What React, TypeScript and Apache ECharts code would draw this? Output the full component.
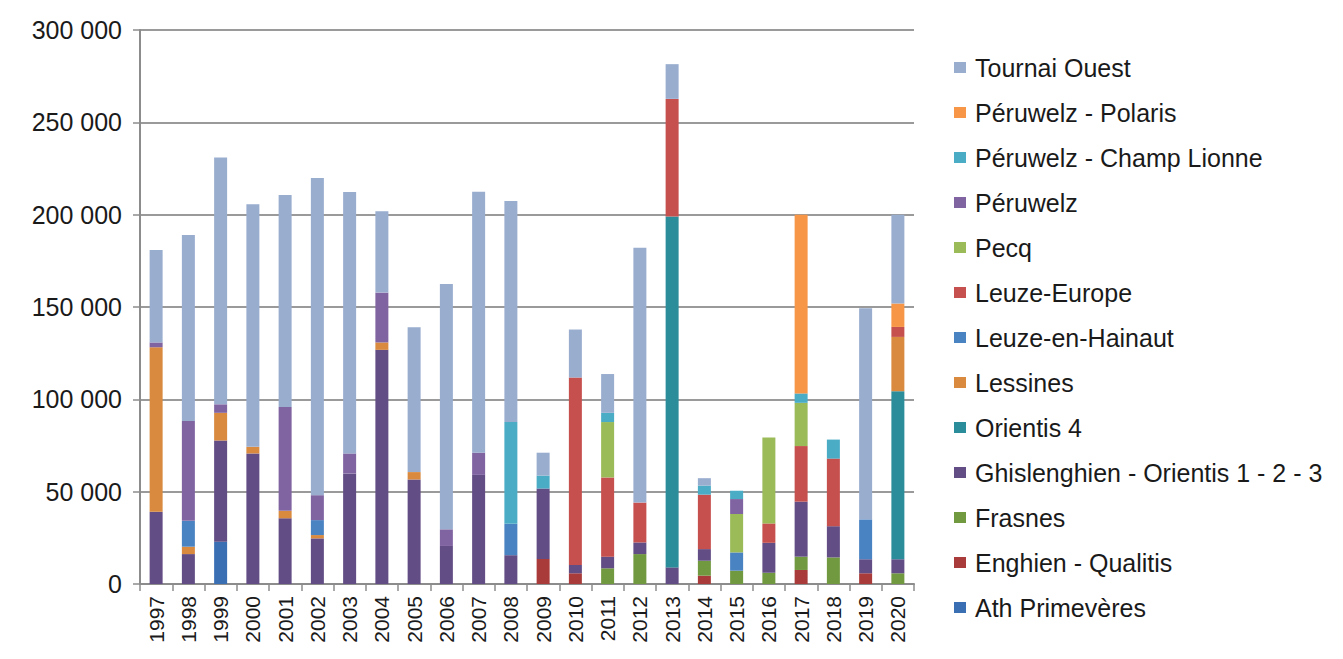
import React, { useEffect, useRef } from "react";
import * as echarts from "echarts";

const years = ["1997","1998","1999","2000","2001","2002","2003","2004","2005","2006","2007","2008","2009","2010","2011","2012","2013","2014","2015","2016","2017","2018","2019","2020"];

const yTicks = { min: 0, max: 300000, interval: 50000 };

// stacking order: bottom to top
const athPrimeveres = [0,0,22900,0,0,0,0,0,0,0,0,0,0,0,0,0,0,0,0,0,0,0,0,0];
const enghienQualitis = [0,0,0,0,0,0,0,0,0,0,0,0,13600,5800,0,0,0,4500,0,0,7600,0,5800,0];
const frasnes = [0,0,0,0,0,0,0,0,0,0,0,0,0,0,8500,16200,0,8100,7200,6100,7200,14400,0,5800];
const ghislenghien = [39100,16200,54800,70700,35600,24700,59900,126800,56600,20600,59100,15600,38100,4500,6300,6300,9000,6300,0,16200,29800,16900,7600,7600];
const orientis4 = [0,0,0,0,0,0,0,0,0,0,0,0,0,0,0,0,190000,0,0,0,0,0,0,91000];
const lessines = [89100,4000,15000,3600,4000,1800,0,4000,4000,0,0,0,0,0,0,0,0,0,0,0,0,0,0,29400];
const leuzeEnHainaut = [0,14000,0,0,0,8100,0,0,0,0,0,17000,0,0,0,0,0,0,9900,0,0,0,21600,0];
const leuzeEurope = [0,0,0,0,0,0,0,0,0,0,0,0,0,101500,42900,21600,63700,29500,0,10500,30100,36600,0,5400];
const pecq = [0,0,0,0,0,0,0,0,0,0,0,0,0,0,30000,0,0,0,20800,46500,23400,0,0,0];
const peruwelz = [2600,54000,4600,0,56300,13500,10800,27000,0,9000,12000,0,0,0,0,0,0,0,8100,0,0,0,0,0];
const champLionne = [0,0,0,0,0,0,0,0,0,0,0,55100,7000,0,5000,0,0,4900,4500,0,5100,10300,0,0];
const polaris = [0,0,0,0,0,0,0,0,0,0,0,0,0,0,0,0,0,0,0,0,96800,0,0,12700];
const tournaiOuest = [50000,100800,133600,131300,114800,171800,141600,44100,78500,132900,141300,119700,12400,26000,21000,138000,18800,4000,0,0,0,0,114300,48000];

const seriesDefs = [
  { name: "Ath Primevères", data: athPrimeveres, color: "#3b6fb4" },
  { name: "Enghien - Qualitis", data: enghienQualitis, color: "#a93c3a" },
  { name: "Frasnes", data: frasnes, color: "#71993f" },
  { name: "Ghislenghien - Orientis 1 - 2 - 3", data: ghislenghien, color: "#624d85" },
  { name: "Orientis 4", data: orientis4, color: "#2c8d9a" },
  { name: "Lessines", data: lessines, color: "#d98a3f" },
  { name: "Leuze-en-Hainaut", data: leuzeEnHainaut, color: "#4a83c2" },
  { name: "Leuze-Europe", data: leuzeEurope, color: "#c6504e" },
  { name: "Pecq", data: pecq, color: "#9bbb59" },
  { name: "Péruwelz", data: peruwelz, color: "#8064a2" },
  { name: "Péruwelz - Champ Lionne", data: champLionne, color: "#4bacc6" },
  { name: "Péruwelz - Polaris", data: polaris, color: "#f79646" },
  { name: "Tournai Ouest", data: tournaiOuest, color: "#99adcf" },
];

const FONT = "'Liberation Sans', Arial, sans-serif";

function fmt(v: number) {
  return String(v).replace(/\B(?=(\d{3})+(?!\d))/g, " ");
}

export default function App() {
  const ref = useRef<HTMLDivElement>(null);
  useEffect(() => {
    document.body.style.margin = "0";
    const chart = echarts.init(ref.current!, undefined, { renderer: "svg" });
    chart.setOption({
      animation: false,
      backgroundColor: "#ffffff",
      grid: { left: 140, right: 429, top: 30, bottom: 75, containLabel: false },
      legend: {
        orient: "vertical",
        left: 954,
        top: 55,
        padding: 0,
        itemWidth: 12,
        itemHeight: 11,
        itemGap: 20,
        icon: "rect",
        data: seriesDefs.map((s) => s.name).reverse(),
        textStyle: { fontFamily: FONT, fontSize: 25, color: "#1a1a1a", lineHeight: 25, padding: [0, 0, 0, 4] },
      },
      xAxis: {
        type: "category",
        data: years,
        axisLine: { lineStyle: { color: "#8c8c8c", width: 2 } },
        axisTick: { show: true, length: 7, lineStyle: { color: "#8c8c8c", width: 1.5 } },
        axisLabel: { rotate: 90, fontFamily: FONT, fontSize: 21, color: "#1a1a1a", margin: 12, interval: 0 },
      },
      yAxis: {
        type: "value",
        min: yTicks.min,
        max: yTicks.max,
        interval: yTicks.interval,
        axisLine: { show: true, lineStyle: { color: "#8c8c8c", width: 2 } },
        axisTick: { show: true, length: 7, lineStyle: { color: "#8c8c8c", width: 1.5 } },
        splitLine: { lineStyle: { color: "#9a9a9a", width: 2 } },
        axisLabel: { fontFamily: FONT, fontSize: 25, color: "#1a1a1a", margin: 18, formatter: (v: number) => fmt(v) },
      },
      series: seriesDefs.map((s) => ({
        name: s.name,
        type: "bar",
        stack: "total",
        barWidth: 13,
        data: s.data,
        itemStyle: { color: s.color },
      })),
    });
    return () => chart.dispose();
  }, []);
  return <div ref={ref} style={{ width: 1343, height: 659 }} />;
}
